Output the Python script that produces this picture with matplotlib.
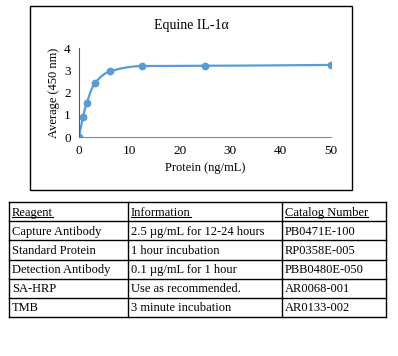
import numpy as np
import matplotlib
matplotlib.use('Agg')
from matplotlib import pyplot as plt
from matplotlib.patches import Rectangle

# standard curve data
conc = [0, 0.78, 1.56, 3.125, 6.25, 12.5, 25, 50]
avg_od = [0.02, 0.91, 1.55, 2.42, 2.97, 3.20, 3.21, 3.25]

# table data
col_labels = ['Reagent', 'Information', 'Catalog Number']
reagents = ['Capture Antibody', 'Standard Protein', 'Detection Antibody', 'SA-HRP', 'TMB']
info = ['2.5 µg/mL for 12-24 hours', '1 hour incubation', '0.1 µg/mL for 1 hour',
        'Use as recommended.', '3 minute incubation']
catalog = ['PB0471E-100', 'RP0358E-005', 'PBB0480E-050', 'AR0068-001', 'AR0133-002']

plt.rcParams['font.family'] = ['Liberation Serif', 'DejaVu Serif']
W, H = 398, 356
blue = '#5B9BD5'


def pchip(x, y, xs):
    # monotone cubic for a smooth line through the points (like Excel smoothing)
    x = np.asarray(x, float)
    y = np.asarray(y, float)
    h = np.diff(x)
    d = np.diff(y) / h
    m = np.zeros_like(y)
    for k in range(1, len(x) - 1):
        if d[k - 1] * d[k] > 0:
            w1 = 2 * h[k] + h[k - 1]
            w2 = h[k] + 2 * h[k - 1]
            m[k] = (w1 + w2) / (w1 / d[k - 1] + w2 / d[k])
    m[0] = d[0]
    m[-1] = d[-1]
    out = np.empty_like(xs)
    for i, xv in enumerate(xs):
        k = min(np.searchsorted(x, xv, side='right') - 1, len(x) - 2)
        t = (xv - x[k]) / h[k]
        h00 = 2 * t**3 - 3 * t**2 + 1
        h10 = t**3 - 2 * t**2 + t
        h01 = -2 * t**3 + 3 * t**2
        h11 = t**3 - t**2
        out[i] = h00 * y[k] + h10 * h[k] * m[k] + h01 * y[k + 1] + h11 * h[k] * m[k + 1]
    return out


fig = plt.figure(figsize=(W / 100, H / 100), dpi=100)

# chart border
fig.patches.append(Rectangle((30 / W, 1 - 190 / H), (352 - 30) / W, (190 - 6) / H,
                             transform=fig.transFigure, fill=False, ec='black', lw=1))

ax = fig.add_axes([79 / W, 1 - 137 / H, (330.7 - 79) / W, (137 - 48.3) / H])
xs = np.linspace(0, 50, 600)
ax.plot(xs, pchip(conc, avg_od, xs), color=blue, lw=1.6)
ax.plot(conc, avg_od, 'o', color=blue, ms=4.6)
ax.set_xlim(0, 50)
ax.set_ylim(0, 4)
ax.set_xticks([0, 10, 20, 30, 40, 50])
ax.set_yticks([0, 1, 2, 3, 4])
for s in ['top', 'right']:
    ax.spines[s].set_visible(False)
ax.spines['left'].set_color('#595959')
ax.spines['bottom'].set_color('#868686')
ax.tick_params(length=0, labelsize=9.5, pad=6)
ax.set_xlabel('Protein (ng/mL)', fontsize=9, labelpad=3)
ax.set_ylabel('Average (450 nm)', fontsize=9, labelpad=3)
ax.patch.set_alpha(0)
fig.text(191.5 / W, 1 - 25 / H, 'Equine IL-1α', ha='center', va='center', fontsize=10)

# table
cols = [9, 128, 282, 386]
top, bottom = 202, 317
nrows = len(reagents) + 1
rh = (bottom - top) / nrows
rows = [col_labels] + [list(r) for r in zip(reagents, info, catalog)]
for r in range(nrows + 1):
    yy = 1 - (top + r * rh) / H
    fig.add_artist(plt.Line2D([cols[0] / W, cols[-1] / W], [yy, yy], color='black', lw=1))
for c in cols:
    fig.add_artist(plt.Line2D([c / W, c / W], [1 - top / H, 1 - bottom / H], color='black', lw=1))

fig.canvas.draw()
renderer = fig.canvas.get_renderer()
for r, row in enumerate(rows):
    base = top + (r + 0.5) * rh + 4
    for c, txt in enumerate(row):
        t = fig.text((cols[c] + 3) / W, 1 - base / H, txt, ha='left', va='baseline', fontsize=9)
        if r == 0:
            bb = t.get_window_extent(renderer)
            yl = 1 - (base + 1.5) / H
            fig.add_artist(plt.Line2D([bb.x0 / W, bb.x1 / W], [yl, yl], color='black', lw=0.8))

fig.savefig('out.png', dpi=100)
